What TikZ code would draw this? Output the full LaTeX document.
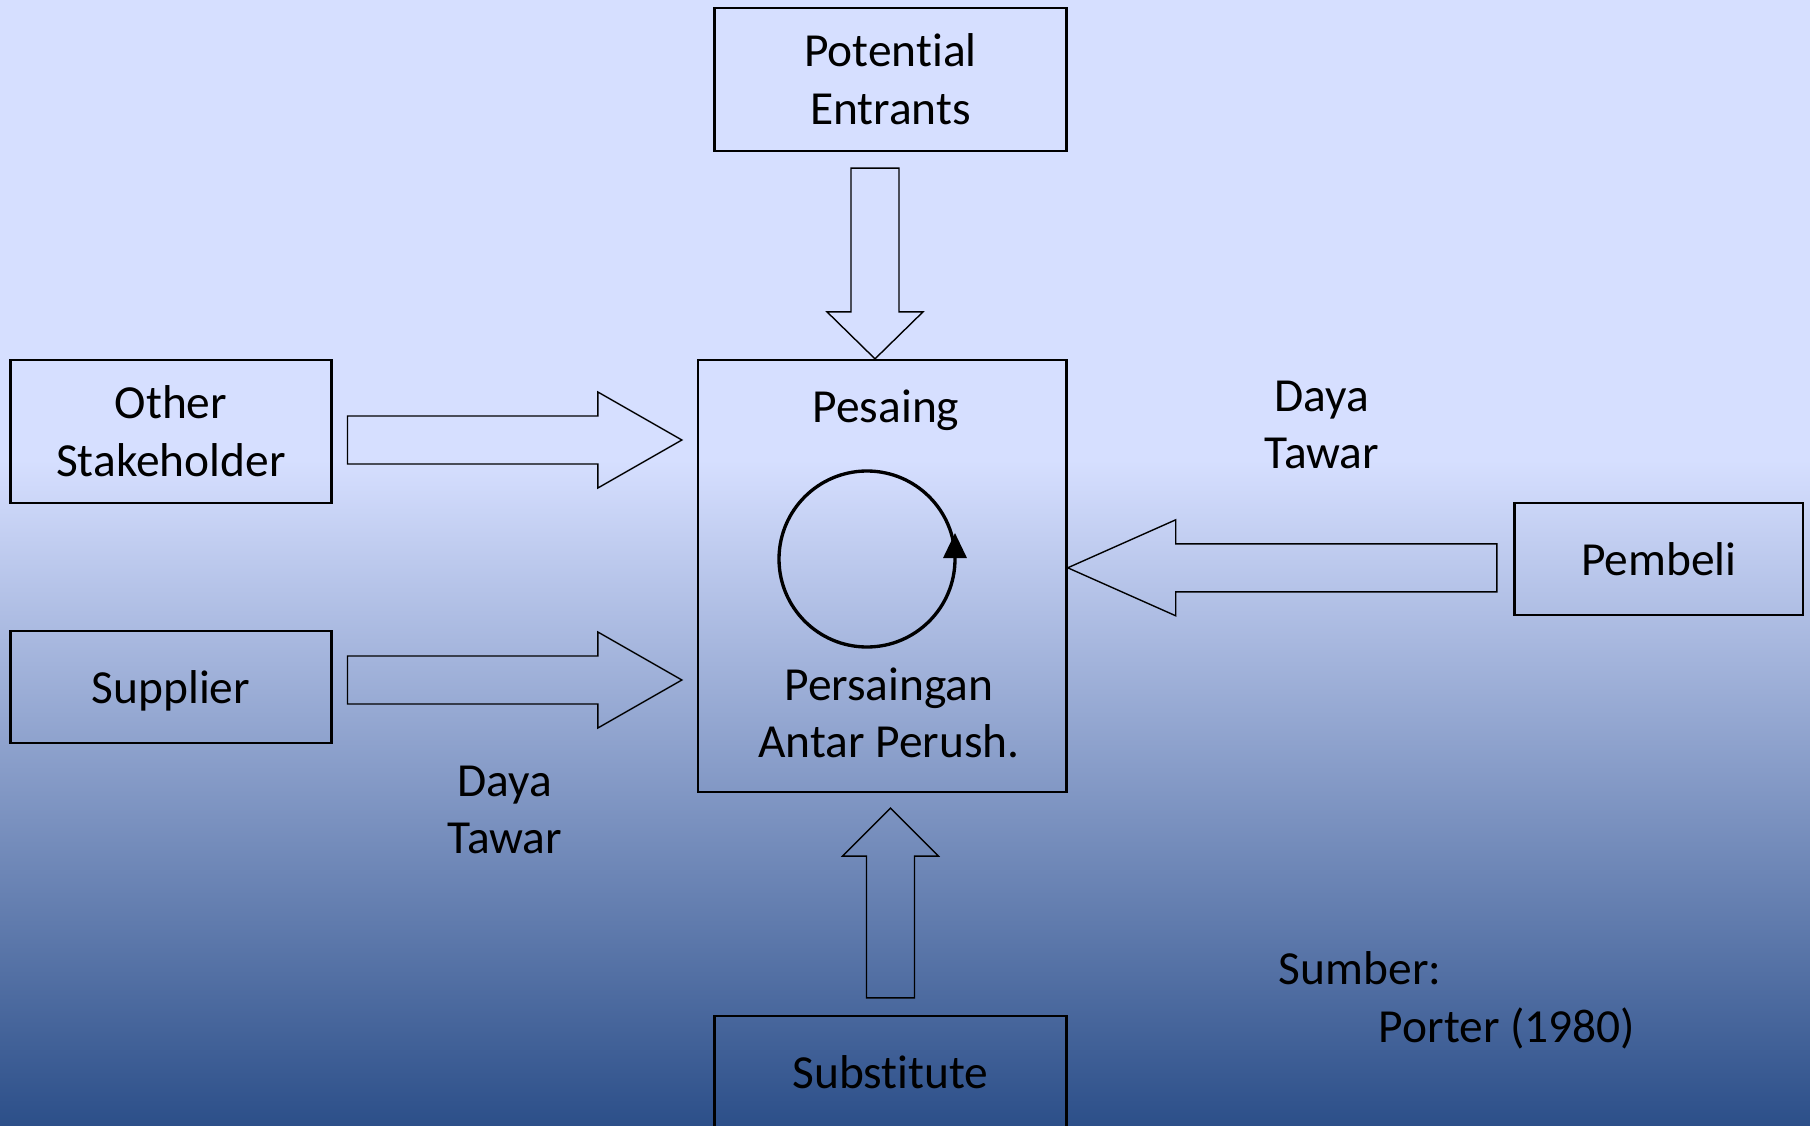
\documentclass[tikz,border=0pt]{standalone}
\usepackage{fontspec}
\setmainfont{Carlito}[Ligatures=NoCommon, RawFeature=-liga, RawFeature=-dlig, RawFeature=-calt]
\usepackage{xcolor}
\usetikzlibrary{shapes,arrows.meta,positioning,calc}
\definecolor{bgtop}{RGB}{214,223,255}
\definecolor{bgbottom}{RGB}{44,79,137}

\begin{document}
\begin{tikzpicture}[
        font=\fontsize{13.5}{16.4}\selectfont,
        box/.style={rectangle, draw, line width=0.65pt, minimum width=3.52cm, minimum height=1.43cm, align=center, inner sep=0pt},
        txt/.style={align=center},
        fat/.style={draw, line width=0.65pt, to path={let \p1=($(\tikztotarget)!#1!(\tikztostart)$) in
            ($(\tikztostart)!0.24cm!90:(\tikztotarget)$) -- ($(\p1)!0.24cm!90:(\tikztotarget)$) -- ($(\p1)!0.48cm!90:(\tikztotarget)$) -- (\tikztotarget)
            -- ($(\p1)!0.48cm!-90:(\tikztotarget)$) -- ($(\p1)!0.24cm!-90:(\tikztotarget)$) -- ($(\tikztostart)!0.24cm!-90:(\tikztotarget)$) -- cycle}},
        fat/.default=0.47cm,
        spin/.style={line width=0.95pt, -{Triangle[length=0.25cm, width=0.23cm]}}
    ]
        \fill[bgtop] (0,0) rectangle (18.1,-4.62);
        \shade[top color=bgtop, bottom color=bgbottom] (0,-4.6) rectangle (18.1,-11.26);
        \useasboundingbox (0,0) rectangle (18.1,-11.26);

        \node[box] (entrants) at (8.905,-0.795) {Potential\\Entrants};
        \node[box, minimum width=3.21cm] (other) at (1.709,-4.315) {Other\\Stakeholder};
        \node[box, minimum width=3.21cm, minimum height=1.12cm, text depth=0pt] (supplier) at (1.709,-6.87) {Supplier};
        \node[box, minimum width=3.686cm, minimum height=4.32cm] (rival) at (8.823,-5.76) {};
        \node[box, minimum width=2.885cm, minimum height=1.12cm] (pembeli) at (16.588,-5.59) {Pembeli};
        \node[box, minimum height=1.12cm] (substitute) at (8.905,-10.72) {Substitute};

        \node[txt] (pesaing) at (8.86,-4.10) {Pesaing};
        \node[txt] (antar) at (8.89,-7.13) {Persaingan\\Antar Perush.};
        \node[circle, minimum size=1.76cm, inner sep=0pt] (cyc) at (8.67,-5.59) {};
        \draw[spin] ([shift={(0:0.88)}]cyc.center) arc[start angle=0, end angle=360, radius=0.88] -- ++(0,0.26);

        \node[txt] (tawarb) at (13.22,-4.25) {Daya\\Tawar};
        \node[txt] (tawars) at (5.05,-8.10) {Daya\\Tawar};
        \node[txt, align=left, anchor=west] (sumber) at (12.665,-10.0) {Sumber:\\\hspace*{1.0cm}Porter (1980)};

        \coordinate (eBase) at ($(entrants.south)+(-0.155,-0.16)$);
        \coordinate (eTip) at ($(eBase |- rival.north)$);
        \coordinate (oBase) at ($(other.east)+(0.15,-0.085)$);
        \coordinate (oTip) at ($(oBase -| rival.west)+(-0.15,0)$);
        \coordinate (sBase) at ($(supplier.east)+(0.15,0.07)$);
        \coordinate (sTip) at ($(sBase -| rival.west)+(-0.15,0)$);
        \coordinate (bBase) at ($(pembeli.west)+(-0.165,-0.088)$);
        \coordinate (bTip) at (bBase -| rival.east);
        \coordinate (uBase) at ($(substitute.north)+(0,0.17)$);
        \coordinate (uTip) at ($(uBase |- rival.south)+(0,-0.15)$);

        \draw (eBase) to[fat] (eTip);
        \draw (oBase) to[fat=0.84cm] (oTip);
        \draw (sBase) to[fat=0.84cm] (sTip);
        \draw (bBase) to[fat=1.08cm] (bTip);
        \draw (uBase) to[fat=0.48cm] (uTip);
    \end{tikzpicture}
\end{document}
